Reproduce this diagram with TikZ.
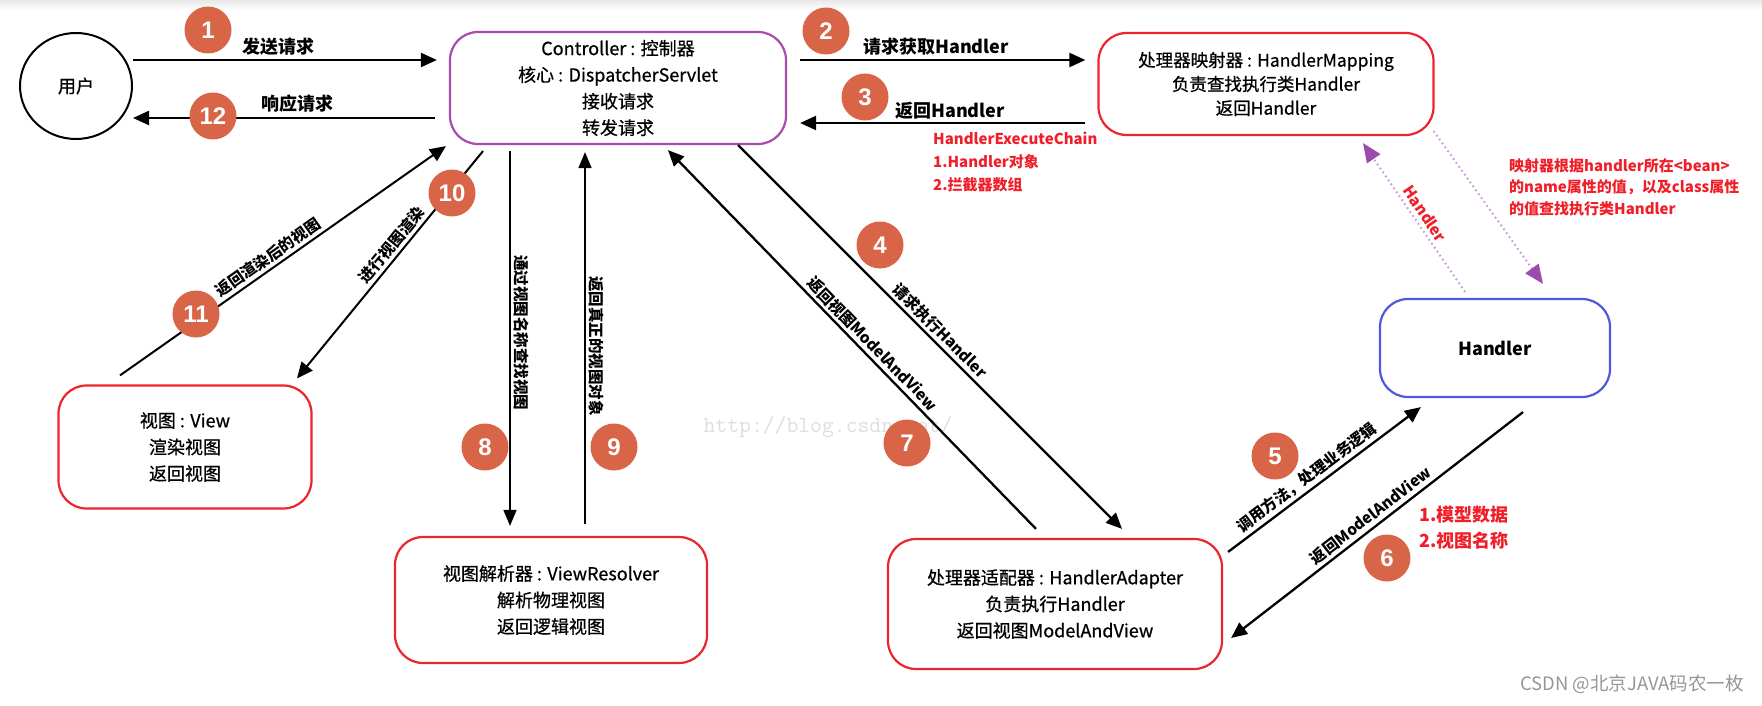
\documentclass[tikz,border=0pt]{standalone}
\usepackage{fontspec}
\setmainfont{Noto Sans CJK SC}
\newfontfamily\medfont{Noto Sans CJK SC}[FakeBold=0.7]
\newfontfamily\numfam{Liberation Sans}
\usetikzlibrary{arrows.meta,calc,shapes.geometric}
\definecolor{numc}{RGB}{217,101,72}
\definecolor{boxred}{RGB}{236,36,46}
\definecolor{boxpurple}{RGB}{166,76,172}
\definecolor{boxblue}{RGB}{78,88,222}
\definecolor{txtred}{RGB}{240,30,40}
\definecolor{dotpurple}{RGB}{200,150,220}
\definecolor{headpurple}{RGB}{155,75,172}
\definecolor{wmgray}{RGB}{222,222,222}
\definecolor{csdngray}{RGB}{150,150,150}
\tikzset{
  box/.style={draw, rounded corners=28pt, line width=2.2pt, align=center, inner sep=0pt,
    font=\medfont\fontsize{18}{26.5}\selectfont},
  arr/.style={line width=2.3pt, -{Triangle[length=16pt,width=14pt]}},
  thinarr/.style={line width=1.7pt, -{Triangle[length=16pt,width=13pt]}},
  dotarr/.style={draw=dotpurple, line width=2pt, dash pattern=on 1.6pt off 3.2pt,
    -{Triangle[length=19pt,width=16pt,fill=headpurple,color=headpurple]}},
  num/.style={circle, fill=numc, minimum size=47pt, inner sep=0pt, text=white,
    font=\numfam\bfseries\fontsize{24}{24}\selectfont},
  lbl/.style={font=\bfseries\fontsize{18}{20}\selectfont, inner sep=0pt},
  rlbl/.style={font=\bfseries\fontsize{15.5}{17}\selectfont, inner sep=3pt},
  redtxt/.style={text=txtred, font=\bfseries\fontsize{15}{23}\selectfont, align=left, inner sep=0pt},
}
\begin{document}
\begin{tikzpicture}[x=1pt,y=-1pt]
\useasboundingbox (0,0) rectangle (1762,706);
\shade[top color=black!9, bottom color=white] (0,0) rectangle (1762,10);

% nodes
\node[draw, ellipse, line width=2pt, minimum width=112pt, minimum height=106pt,
  font=\medfont\fontsize{18}{20}\selectfont] (user) at (76,86) {用户};
\node[box, draw=boxpurple, minimum width=336pt, minimum height=112pt] (ctrl) at (618,88)
  {Controller : 控制器\\核心 : DispatcherServlet\\接收请求\\转发请求};
\node[box, draw=boxred, minimum width=335pt, minimum height=102pt,
  font=\medfont\fontsize{17.5}{24}\selectfont] (hm) at (1266,84)
  {处理器映射器 : HandlerMapping\\负责查找执行类Handler\\返回Handler};
\node[box, draw=boxblue, minimum width=230pt, minimum height=98pt,
  font=\bfseries\fontsize{18}{20}\selectfont] (handler) at (1495,348) {Handler};
\node[box, draw=boxred, minimum width=334pt, minimum height=130pt] (ha) at (1055,604)
  {处理器适配器 : HandlerAdapter\\负责执行Handler\\返回视图ModelAndView};
\node[box, draw=boxred, minimum width=312pt, minimum height=126pt] (vr) at (551,600)
  {视图解析器 : ViewResolver\\解析物理视图\\返回逻辑视图};
\node[box, draw=boxred, minimum width=253pt, minimum height=123pt] (view) at (185,447)
  {视图 : View\\渲染视图\\返回视图};

% watermark
\node[text=wmgray, font=\ttfamily\fontsize{23}{23}\selectfont, inner sep=0pt] (wm) at (828,427) {http://blog.csdn.net/};

% connectors
\draw[arr] ($(user.east)+(0,-26)$) -- ($(ctrl.west)+(-12,-28)$);
\draw[arr] ($(ctrl.west)+(-14,30)$) -- ($(user.east)+(0,32)$);
\draw[arr] ($(ctrl.east)+(13,-28)$) -- ($(hm.west)+(-12,-24)$);
\draw[arr] ($(hm.west)+(-12,39)$) -- ($(ctrl.east)+(13,35)$);
\draw[arr] ($(ctrl.south)+(120,0)$) -- node[rlbl, sloped, above, pos=0.505] {请求执行Handler} ($(ha.north)+(67,-9)$);
\draw[arr] ($(ha.north)+(-19,-9)$) -- node[rlbl, sloped, above, pos=0.467] {返回视图ModelAndView} ($(ctrl.south)+(50,5)$);
\draw[thinarr] ($(ctrl.south)+(-108,6)$) -- node[rlbl, rotate=-90, anchor=south, pos=0.485] {通过视图名称查找视图} ($(vr.north)+(-41,-10)$);
\draw[thinarr] ($(vr.north)+(34,-12)$) -- node[rlbl, rotate=-90, anchor=south, pos=0.479] {返回真正的视图对象} ($(ctrl.south)+(-33,7)$);
\draw[line width=2pt, -{Triangle[length=16pt,width=14pt]}] ($(ctrl.south)+(-135,6)$) -- node[rlbl, sloped, above, pos=0.443] {进行视图渲染} ($(view.north)+(112,-6)$);
\draw[line width=2pt, -{Triangle[length=16pt,width=14pt]}] ($(view.north)+(-65,-9)$) -- node[rlbl, sloped, above, pos=0.474] {返回渲染后的视图} ($(ctrl.south west)+(-3,1)$);
\draw[arr] ($(ha.north east)+(5,14)$) -- node[rlbl, sloped, above, pos=0.446] {调用方法，处理业务逻辑} ($(handler.south west)+(42,9)$);
\draw[arr] ($(handler.south)+(28,14)$) -- node[rlbl, sloped, above, pos=0.498] {返回ModelAndView} ($(ha.east)+(8,34)$);
\draw[dotarr] ($(handler.north)+(-30,-6)$) -- node[rlbl, text=txtred, sloped, above, pos=0.483, inner sep=4pt] {Handler} ($(hm.south)+(97,7)$);
\draw[dotarr] ($(hm.south east)+(-1,-5)$) -- ($(handler.north)+(48,-14)$);

% edge labels
\node[lbl] (l1) at (278,47) {发送请求};
\node[lbl] (l12) at (297,104) {响应请求};
\node[lbl] (l2) at (936,47) {请求获取Handler};
\node[lbl] (l3) at (950,111) {返回Handler};
\node[redtxt, anchor=west] (chain) at (933,162) {HandlerExecuteChain\\1.Handler对象\\2.拦截器数组};
\node[redtxt, anchor=west, font=\bfseries\fontsize{15}{21.5}\selectfont] (note) at (1509,187)
  {映射器根据handler所在<bean>\\的name属性的值，以及class属性\\的值查找执行类Handler};
\node[redtxt, anchor=west, font=\bfseries\fontsize{18}{26}\selectfont] (mv) at (1419,528) {1.模型数据\\2.视图名称};

% numbered circles
\node[num] (c1) at (208,30) {1};
\node[num] (c2) at (826,31) {2};
\node[num] (c3) at (865,97) {3};
\node[num] (c4) at (880,245) {4};
\node[num] (c5) at (1275,456) {5};
\node[num] (c6) at (1387,558) {6};
\node[num] (c7) at (907,443) {7};
\node[num] (c8) at (485,447) {8};
\node[num] (c9) at (614,447) {9};
\node[num] (c10) at (452,193) {10};
\node[num] (c11) at (196,314) {11};
\node[num] (c12) at (213,116) {12};

\node[text=csdngray, font=\fontsize{18.5}{20}\selectfont, inner sep=0pt] (csdn) at (1632,684) {CSDN @北京JAVA码农一枚};
\end{tikzpicture}
\end{document}
